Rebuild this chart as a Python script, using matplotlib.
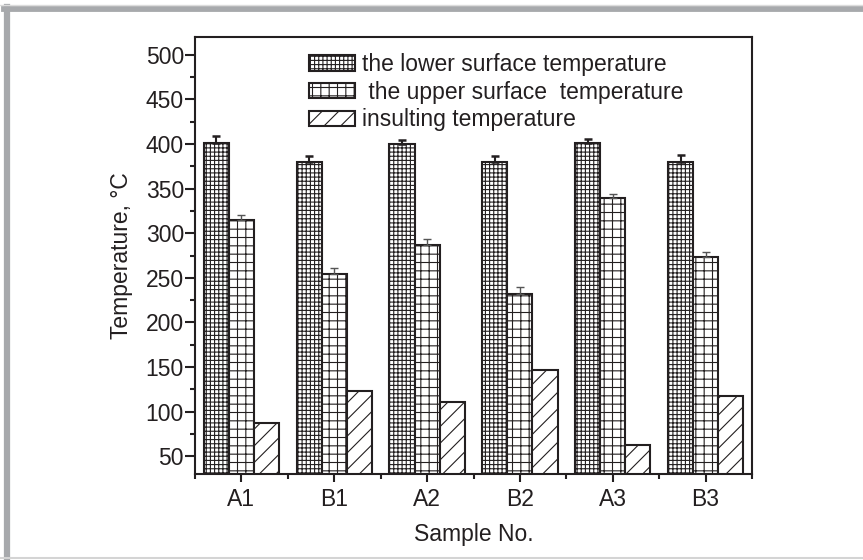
import matplotlib
matplotlib.use("Agg")
import matplotlib.pyplot as plt
import numpy as np
from matplotlib.patches import Patch
from matplotlib.lines import Line2D
from matplotlib.ticker import MultipleLocator

# data
samples = ["A1", "B1", "A2", "B2", "A3", "B3"]
lower = [401, 380, 400, 380, 401, 380]
lower_err = [8, 7, 5, 7, 5, 8]
upper = [315, 254, 287, 232, 339, 273]
upper_err = [5, 7, 7, 8, 5, 6]
insul = [87, 123, 111, 147, 63, 118]

labels = ["the lower surface temperature",
          " the upper surface  temperature",
          "insulting temperature"]

plt.rcParams["font.family"] = ["Liberation Sans", "DejaVu Sans"]
plt.rcParams["hatch.linewidth"] = 0.8
ink = "#231f20"

fig = plt.figure(figsize=(8.63, 5.6), dpi=100)
ax = fig.add_axes([195/863, 86/560, 557/863, 437/560])

x = np.arange(1, len(samples) + 1)
w = 0.27
bar_kw = dict(color="white", edgecolor=ink, linewidth=1.5, zorder=2)

ax.bar(x - w, lower, w, hatch="++++", **bar_kw)
ax.bar(x, upper, w, hatch="++", **bar_kw)
ax.bar(x + w, insul, w, hatch="//", **bar_kw)

# one-sided error bars
ax.errorbar(x - w, lower, yerr=[np.zeros(6), lower_err], fmt="none",
            ecolor=ink, elinewidth=1.5, capsize=3.2, capthick=1.8, zorder=3)
ax.errorbar(x, upper, yerr=[np.zeros(6), upper_err], fmt="none",
            ecolor="#555555", elinewidth=1.0, capsize=3.2, capthick=1.0, zorder=3)

ax.set_xlim(0.5, 6.5)
ax.set_ylim(30, 520)
ax.set_xticks(x)
ax.set_xticklabels(samples)
ax.xaxis.set_minor_locator(MultipleLocator(1, offset=0.5))
ax.yaxis.set_minor_locator(MultipleLocator(25))
ax.set_yticks(np.arange(50, 501, 50))

ax.tick_params(axis="both", which="both", direction="out", width=1.5,
               colors=ink, labelsize=16.5)
ax.tick_params(axis="y", which="major", length=7, pad=1)
ax.tick_params(axis="x", which="major", length=6, pad=4)
ax.tick_params(axis="both", which="minor", length=3.5)
for s in ax.spines.values():
    s.set_linewidth(1.5)
    s.set_color(ink)

ax.set_xlabel("Sample No.", fontsize=16.5, color=ink, labelpad=9)
ax.set_ylabel("Temperature, \u00b0C", fontsize=16.5, color=ink, labelpad=9)

handles = [Patch(facecolor="white", edgecolor=ink, linewidth=1.5, hatch=h)
           for h in ["++++", "++", "//"]]
ax.legend(handles, labels, loc="upper left", bbox_to_anchor=(0.205, 0.963),
          frameon=False, fontsize=16.5, borderpad=0, borderaxespad=0,
          handlelength=2.0, handleheight=0.65, handletextpad=0.3,
          labelspacing=0.2, labelcolor=ink)

# grey page frame: thick top and left bands, thin light line at the bottom
grey = "#a7a9ac"
fig.add_artist(Line2D([4/863, 1], [1 - 8.5/560, 1 - 8.5/560],
                      transform=fig.transFigure, color=grey, linewidth=4.2))
fig.add_artist(Line2D([7/863, 7/863], [0, 1 - 6.5/560],
                      transform=fig.transFigure, color=grey, linewidth=4.5))
fig.add_artist(Line2D([0, 1], [1 - 5/560, 1 - 5/560],
                      transform=fig.transFigure, color="#dcdcdc", linewidth=1))
fig.add_artist(Line2D([0, 1], [2/560, 2/560], transform=fig.transFigure,
                      color="#d4d4d4", linewidth=1.5))

fig.savefig("out.png", dpi=100)
